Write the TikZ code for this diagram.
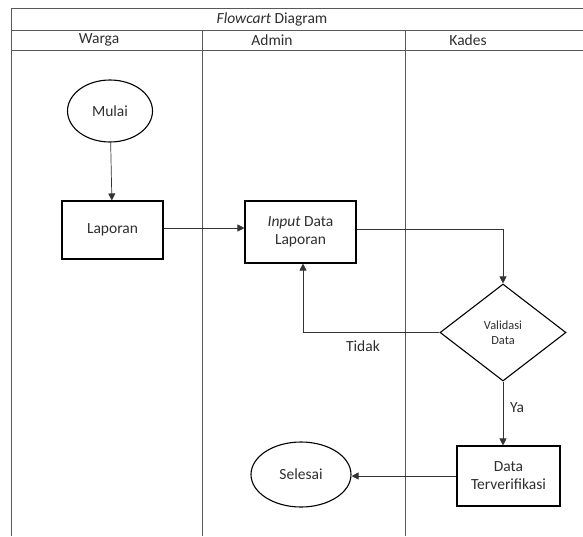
\documentclass[tikz,border=0pt]{standalone}
\usepackage{fontspec}
\setmainfont{Carlito}
\usetikzlibrary{shapes.geometric,arrows.meta}
\begin{document}
\begin{tikzpicture}[x=1pt,y=-1pt,
  font=\fontsize{15.5}{18}\selectfont,
  every node/.style={text=black!82},
  grid/.style={draw=black!65,line width=0.8pt},
  procbox/.style={draw=black,line width=1.1pt,minimum width=101pt,minimum height=58pt,align=center,inner sep=0pt},
  term/.style={draw=black,line width=1.1pt,ellipse,inner sep=0pt,align=center},
  decis/.style={draw=black,line width=1.1pt,diamond,minimum width=126pt,minimum height=97pt,inner sep=0pt,aspect=1.3,align=center},
  conn/.style={draw=black!80,line width=0.7pt,-{Triangle[length=7pt,width=7pt]}},
  lbl/.style={inner sep=0pt}]
\useasboundingbox (0,0) rectangle (583,536);
% table
\draw[grid] (11,8) -- (583,8);
\draw[grid] (11,30) -- (583,30);
\draw[grid] (11,50) -- (583,50);
\draw[grid] (11,8) -- (11,536);
\draw[grid] (202,30) -- (202,536);
\draw[grid] (405,30) -- (405,536);
\node[lbl] (title) at (272,19) {\textit{Flowcart} Diagram};
\node[lbl] (warga) at (99,40) {Warga};
\node[lbl] (admin) at (272,40) {Admin};
\node[lbl] (kades) at (468,40) {Kades};
% nodes
\node[term,minimum width=85pt,minimum height=62pt] (mulai) at (110,111) {Mulai};
\node[procbox] (lap) at (112.5,230) {Laporan};
\node[procbox,minimum width=111pt,minimum height=62pt] (inp) at (300.5,232) {\textit{Input} Data\\Laporan};
\node[decis,font=\fontsize{12.4}{15}\selectfont] (val) at (503,332.5) {Validasi\\Data};
\node[procbox,minimum width=103pt,minimum height=60pt] (dat) at (508.5,476) {Data\\Terverifikasi};
\node[term,minimum width=100pt,minimum height=65pt] (sel) at (301,474.5) {Selesai};
% connectors
\draw[conn] (mulai) -- (lap);
\draw[conn] (lap.east |- 0,228) -- (inp.west |- 0,228);
\draw[conn] (inp.east |- 0,229) -| (val.north);
\draw[conn] (val.west) -| (inp.south -| 303,0);
\draw[conn] (val.south) -- (dat.north -| val.south);
\draw[conn] (dat.west |- 0,476) -- (sel.east |- 0,476);
\node[lbl] (tidak) at (363,346) {Tidak};
\node[lbl] (ya) at (517,408) {Ya};
\end{tikzpicture}
\end{document}
